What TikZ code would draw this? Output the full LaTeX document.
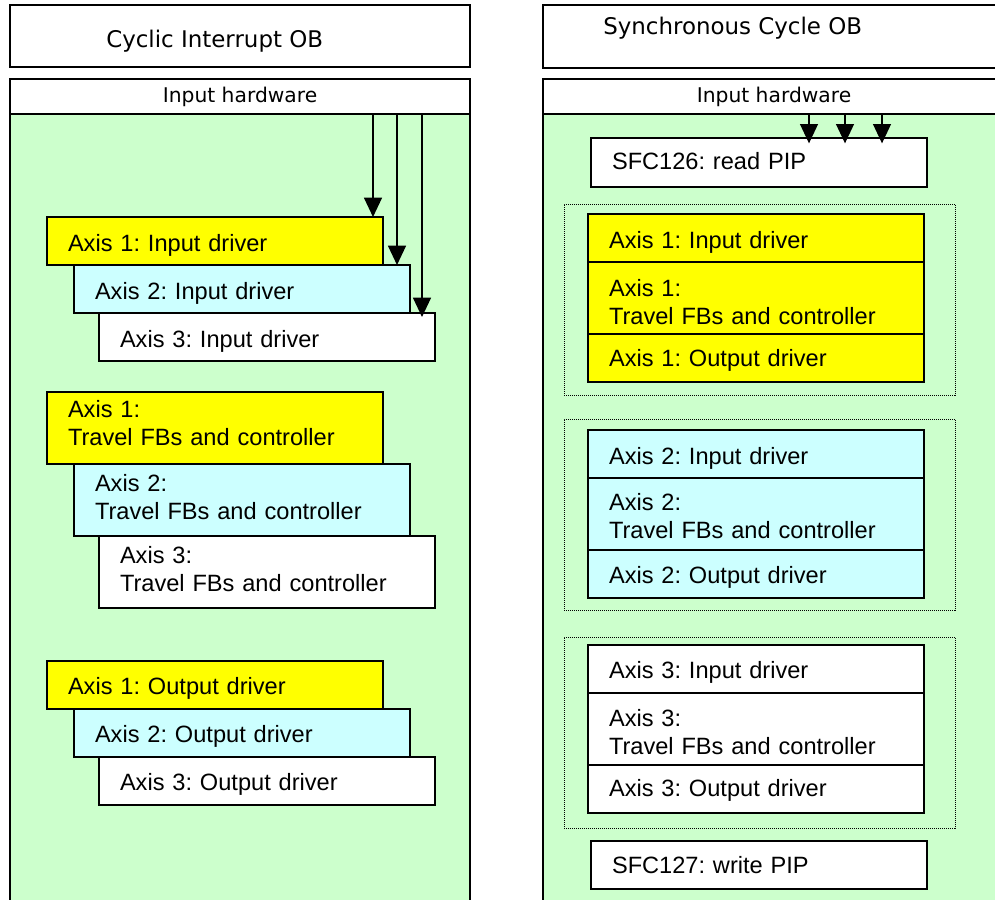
\documentclass[tikz,border=0pt]{standalone}
\usepackage{fontspec}
\newfontfamily\arialf{Liberation Sans}
\newfontfamily\verdf{DejaVu Sans}
\usetikzlibrary{arrows.meta}
\definecolor{pgreen}{HTML}{CCFFCC}
\definecolor{pyellow}{HTML}{FFFF00}
\definecolor{pcyan}{HTML}{CCFFFF}
\tikzset{
  frame/.style={draw, line width=0.9pt, anchor=north west, inner sep=0pt, outer sep=0pt},
  cell/.style={draw, line width=0.8pt, anchor=north west, minimum width=252pt,
    text width=220.5pt, inner xsep=15.75pt, inner ysep=0pt, outer sep=0pt, align=left,
    text depth=0pt, text height=#1,
    font=\arialf\frenchspacing\fontsize{17.7}{21}\selectfont},
  lo/.style={cell=#1, minimum height=36pt},
  lo/.default=15pt,
  hi/.style={cell=#1, minimum height=54pt},
  grp/.style={draw, line width=0.75pt, dash pattern=on 0.75pt off 0.75pt,
    anchor=north west, inner sep=0pt, outer sep=0pt, minimum width=293.25pt, minimum height=143.25pt},
  titletext/.style={anchor=base west, inner sep=0pt, font=\verdf\fontsize{17.2}{20}\selectfont},
  hwtext/.style={inner sep=0pt, font=\verdf\fontsize{15.2}{18}\selectfont},
  arr/.style={line width=0.9pt, -{Triangle[length=14.5pt,width=13.5pt]}},
}
\begin{document}
\begin{tikzpicture}[x=0.75pt,y=-0.75pt]
\clip (0,0) rectangle (995,899);
\fill[white] (0,0) rectangle (995,899);

% ---------------- left panel ----------------
\node[frame, fill=white, minimum width=345pt, minimum height=46.5pt] (tL) at (10,5) {};
\node[titletext] (tLtext) at (106,48) {Cyclic Interrupt OB};
\node[frame, fill=pgreen, minimum width=345pt, minimum height=600pt] (gL) at (10,114) {};
\node[frame, fill=white, minimum width=345pt, minimum height=26.25pt] (ihL) at (10,79) {};
\node[hwtext] (ihLtext) at (ihL.center) {Input hardware};

\node[lo, fill=pyellow] (inL1) at (47,217) {Axis 1: Input driver};
\node[lo, fill=pcyan]   (inL2) at (74,265) {Axis 2: Input driver};
\node[lo, fill=white]   (inL3) at (99,313) {Axis 3: Input driver};

\node[hi=0pt, text depth=15.75pt, fill=pyellow] (trL1) at (47,392) {Axis 1:\\Travel FBs and controller};
\node[hi=0pt, text depth=13.5pt, fill=pcyan]    (trL2) at (74,464) {Axis 2:\\Travel FBs and controller};
\node[hi=0pt, text depth=13.5pt, fill=white]    (trL3) at (99,536) {Axis 3:\\Travel FBs and controller};

\node[lo=14pt, fill=pyellow] (ouL1) at (47,661) {Axis 1: Output driver};
\node[lo=14pt, fill=pcyan]   (ouL2) at (74,709) {Axis 2: Output driver};
\node[lo=14pt, fill=white]   (ouL3) at (99,757) {Axis 3: Output driver};

\coordinate (aL1) at (373,114);
\coordinate (aL2) at (397,114);
\coordinate (aL3) at (422,114);
\draw[arr] (aL1) -- (aL1 |- inL1.north);
\draw[arr] (aL2) -- (aL2 |- inL2.north);
\draw[arr, shorten >=-3pt] (aL3) -- (aL3 |- inL3.north);

% ---------------- right panel ----------------
\node[frame, fill=white, minimum width=346.5pt, minimum height=47.25pt] (tR) at (543,5) {};
\node[titletext] (tRtext) at (603,35) {Synchronous Cycle OB};
\node[frame, fill=pgreen, minimum width=346.5pt, minimum height=600pt] (gR) at (543,114) {};
\node[frame, fill=white, minimum width=346.5pt, minimum height=26.25pt] (ihR) at (543,79) {};
\node[hwtext] (ihRtext) at (ihR.center) {Input hardware};

\node[lo=10.2pt, fill=white, minimum height=36.75pt] (sfc126) at (591,138) {SFC126: read PIP};

\node[grp] (g1) at (564,204) {};
\node[lo, fill=pyellow] (r1a) at (588,214) {Axis 1: Input driver};
\node[hi=0pt, text depth=3pt, fill=pyellow] (r1b) at (r1a.south west) {Axis 1:\\Travel FBs and controller};
\node[lo=12pt, fill=pyellow] (r1c) at (r1b.south west) {Axis 1: Output driver};

\node[grp] (g2) at (564,419) {};
\node[lo, fill=pcyan] (r2a) at (588,430) {Axis 2: Input driver};
\node[hi=0pt, text depth=5.5pt, fill=pcyan] (r2b) at (r2a.south west) {Axis 2:\\Travel FBs and controller};
\node[lo=14pt, fill=pcyan] (r2c) at (r2b.south west) {Axis 2: Output driver};

\node[grp] (g3) at (564,637) {};
\node[lo=13.5pt, fill=white] (r3a) at (588,645) {Axis 3: Input driver};
\node[hi=0pt, text depth=3.6pt, fill=white] (r3b) at (r3a.south west) {Axis 3:\\Travel FBs and controller};
\node[lo=11.5pt, fill=white] (r3c) at (r3b.south west) {Axis 3: Output driver};

\node[lo=12pt, fill=white] (sfc127) at (591,841) {SFC127: write PIP};

\coordinate (aR1) at (809,114);
\coordinate (aR2) at (845,114);
\coordinate (aR3) at (882,114);
\draw[arr, shorten >=-4pt] (aR1) -- (aR1 |- sfc126.north);
\draw[arr, shorten >=-4pt] (aR2) -- (aR2 |- sfc126.north);
\draw[arr, shorten >=-4pt] (aR3) -- (aR3 |- sfc126.north);
\end{tikzpicture}
\end{document}
